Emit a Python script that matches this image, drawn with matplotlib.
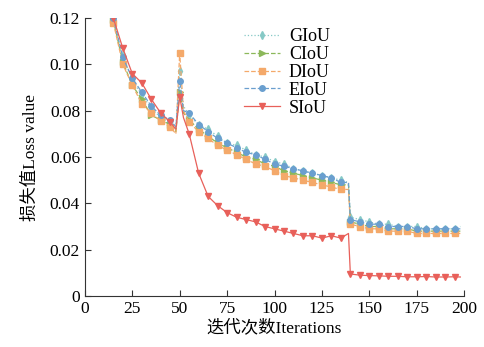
import matplotlib
matplotlib.use("Agg")
import matplotlib.pyplot as plt
from matplotlib.ticker import FuncFormatter

plt.rcParams['font.family'] = ['Liberation Serif', 'Noto Sans CJK SC']

iters = [15, 20, 25, 30, 35, 40, 45, 48, 50, 52,
         55, 60, 65, 70, 75, 80, 85, 90, 95, 100,
         105, 110, 115, 120, 125, 130, 135, 139, 140,
         145, 150, 155, 160, 165, 170, 175, 180, 185, 190, 195, 198]

giou = [0.121, 0.104, 0.093, 0.087, 0.081, 0.077, 0.075, 0.072, 0.097, 0.082,
        0.078, 0.074, 0.072, 0.069, 0.066, 0.065, 0.063, 0.061, 0.060, 0.058,
        0.057, 0.055, 0.054, 0.053, 0.052, 0.051, 0.050, 0.049, 0.034,
        0.033, 0.032, 0.031, 0.031, 0.030, 0.030, 0.030, 0.029, 0.029, 0.029, 0.029, 0.030]
ciou = [0.119, 0.101, 0.091, 0.085, 0.078, 0.076, 0.074, 0.071, 0.088, 0.079,
        0.076, 0.072, 0.069, 0.066, 0.064, 0.062, 0.060, 0.059, 0.057, 0.056,
        0.054, 0.053, 0.052, 0.051, 0.050, 0.049, 0.048, 0.048, 0.032,
        0.031, 0.030, 0.030, 0.029, 0.029, 0.029, 0.028, 0.028, 0.028, 0.028, 0.028, 0.028]
diou = [0.118, 0.100, 0.091, 0.083, 0.079, 0.0755, 0.073, 0.070, 0.105, 0.080,
        0.075, 0.071, 0.068, 0.065, 0.063, 0.061, 0.059, 0.057, 0.056, 0.054,
        0.052, 0.051, 0.050, 0.049, 0.048, 0.047, 0.046, 0.046, 0.031,
        0.030, 0.029, 0.029, 0.028, 0.028, 0.028, 0.027, 0.027, 0.027, 0.027, 0.027, 0.027]
eiou = [0.120, 0.103, 0.094, 0.088, 0.082, 0.078, 0.076, 0.073, 0.093, 0.080,
        0.079, 0.074, 0.071, 0.068, 0.066, 0.064, 0.062, 0.061, 0.059, 0.057,
        0.056, 0.055, 0.054, 0.053, 0.052, 0.051, 0.049, 0.049, 0.033,
        0.032, 0.031, 0.031, 0.030, 0.030, 0.030, 0.029, 0.029, 0.029, 0.029, 0.029, 0.029]
siou = [0.120, 0.107, 0.096, 0.092, 0.085, 0.079, 0.075, 0.072, 0.086, 0.077,
        0.070, 0.053, 0.043, 0.039, 0.036, 0.034, 0.033, 0.032, 0.030, 0.029,
        0.028, 0.027, 0.026, 0.026, 0.025, 0.026, 0.025, 0.027, 0.0095,
        0.009, 0.0088, 0.0087, 0.0085, 0.0085, 0.0083, 0.0083, 0.0084, 0.0082, 0.0082, 0.0083, 0.0082]

names = ['GIoU', 'CIoU', 'DIoU', 'EIoU', 'SIoU']
series = [giou, ciou, diou, eiou, siou]
colors = ['#86c9c6', '#8cb85a', '#f4a96a', '#6a9fcf', '#e8605a']
markers = ['d', '>', 's', 'o', 'v']
styles = [':', '--', '--', '--', '-']

marks = [i for i, it in enumerate(iters) if it % 5 == 0]

fig = plt.figure(figsize=(4.85, 3.47), dpi=100)
ax = fig.add_axes([0.175, 0.147, 0.782, 0.801])

for name, ys, c, m, ls in zip(names, series, colors, markers, styles):
    ax.plot(iters, ys, color=c, marker=m, linestyle=ls, linewidth=0.9,
            markersize=4, markevery=marks, label=name)

ax.set_xlim(0, 200)
ax.set_ylim(0, 0.12)
ax.set_xticks(range(0, 201, 25))
ax.set_yticks([0, 0.02, 0.04, 0.06, 0.08, 0.10, 0.12])
ax.yaxis.set_major_formatter(FuncFormatter(lambda v, p: '0' if v == 0 else f'{v:.2f}'))
ax.tick_params(direction='in', length=4, labelsize=12.5, color='#333333')
for s in ['top', 'right']:
    ax.spines[s].set_visible(False)
for s in ['left', 'bottom']:
    ax.spines[s].set_color('#333333')

ax.set_xlabel('迭代次数Iterations', fontsize=12.5, labelpad=2)
ax.set_ylabel('损失值Loss value', fontsize=12.5, labelpad=8)

ax.legend(loc='upper left', bbox_to_anchor=(0.40, 0.99), frameon=False,
          fontsize=13, handlelength=2.0, labelspacing=0.05, handletextpad=0.5,
          borderaxespad=0)

fig.savefig('out.png', dpi=100)
